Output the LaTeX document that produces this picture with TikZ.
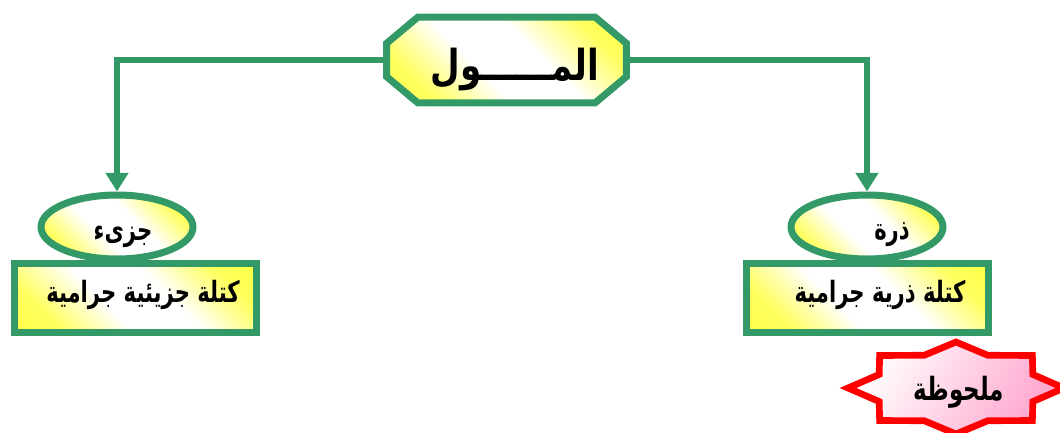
\documentclass[tikz,border=0pt]{standalone}
\usepackage{fontspec}
\setmainfont{DejaVu Sans}
\newfontfamily\arabicfont[Script=Arabic,FakeStretch=0.72]{DejaVu Sans}
\newfontfamily\arabictitle[Script=Arabic,FakeStretch=0.8]{DejaVu Sans}
\TeXXeTstate=1
\usetikzlibrary{shapes.geometric,arrows.meta,calc}
\definecolor{molgreen}{RGB}{51,153,102}
\definecolor{softyellow}{RGB}{255,255,30}
\definecolor{notered}{RGB}{255,0,0}
\definecolor{notepink}{RGB}{255,165,205}
% yellow - white - yellow band, used diagonally
\pgfdeclarehorizontalshading{yellowband}{100bp}{
  color(0bp)=(softyellow); color(26bp)=(softyellow!70!white);
  color(42bp)=(white); color(58bp)=(white);
  color(74bp)=(softyellow!70!white); color(100bp)=(softyellow)}
\tikzset{
  conn/.style={draw=molgreen, line width=5pt,
    -{Triangle[width=16.5pt,length=14pt]}},
  frame/.style={draw=molgreen, line width=5.25pt},
  glow/.style={shading=yellowband, shading angle=45},
  bubble/.style={frame, glow, ellipse, minimum width=114pt, minimum height=48pt},
  massbox/.style={frame, glow, rectangle, minimum width=181.5pt, minimum height=51.75pt},
  lbl/.style={inner sep=0pt, font=\arabicfont\bfseries\fontsize{22}{26}\selectfont},
  biglbl/.style={inner sep=0pt, font=\arabictitle\bfseries\fontsize{32}{36}\selectfont},
}
\begin{document}
\begin{tikzpicture}[x=0.75pt,y=-0.75pt]
\clip (0,0) rectangle (1060,432);
\fill[white] (0,0) rectangle (1060,432);

% title: chamfered box
\node[minimum width=179.25pt, minimum height=63.75pt, inner sep=0pt] (mol) at (506.5,60) {};
\path[glow, frame]
  ($(mol.north west)+(31,0)$) -- ($(mol.north east)+(-31,0)$) -- ($(mol.north east)+(0,26)$)
  -- ($(mol.south east)+(0,-26)$) -- ($(mol.south east)+(-31,0)$) -- ($(mol.south west)+(31,0)$)
  -- ($(mol.south west)+(0,-26)$) -- ($(mol.north west)+(0,26)$) -- cycle;
\node[biglbl] (moltext) at (515,69) {\beginR المــــــول\endR};

% molecule branch
\node[bubble] (jz) at (117,227) {};
\node[massbox] (jzbox) at (135,297.5) {};
\node[lbl] (jzt) at (123,237) {\beginR جزىء\endR};
\node[lbl] (jzboxt) at (143,295) {\beginR كتلة جزيئية جرامية\endR};

% atom branch
\node[bubble] (dr) at (867,227) {};
\node[massbox] (drbox) at (867.5,297.5) {};
\node[lbl] (drt) at (892,235) {\beginR ذرة\endR};
\node[lbl] (drboxt) at (880,295) {\beginR كتلة ذرية جرامية\endR};

% connectors
\draw[conn] (mol.west) -| (jz.north);
\draw[conn] (mol.east) -| (dr.north);

% note badge: eight-pointed star
\begin{scope}[shift={(956,388)}]
  \path[left color=white, right color=notepink, shading angle=60, draw=notered, line width=5pt]
    (0:108 and 46)
    \foreach \a in {22.5,45,...,337.5} {
      -- ({(mod(\a,45)==0 ? 1 : 0.77)*108*cos(\a)},{(mod(\a,45)==0 ? 1 : 0.77)*46*sin(\a)})
    } -- cycle;
\end{scope}
\node[lbl, font=\arabicfont\bfseries\fontsize{24}{28}\selectfont] (note) at (959,392) {\beginR ملحوظة\endR};
\end{tikzpicture}
\end{document}
